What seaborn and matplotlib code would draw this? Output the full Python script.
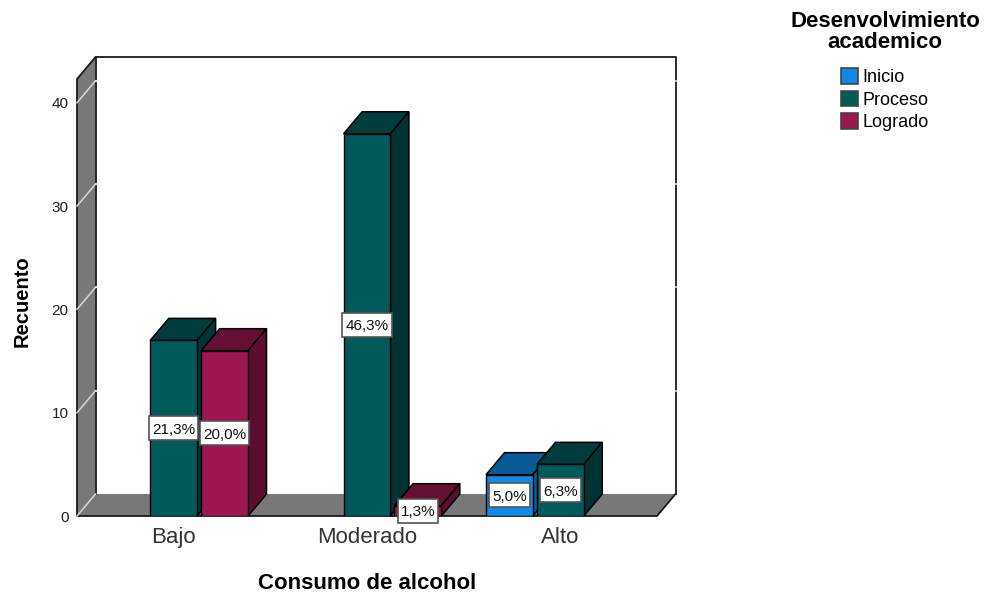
import matplotlib
matplotlib.use("Agg")
import matplotlib.pyplot as plt
import pandas as pd
import seaborn as sns
from matplotlib.patches import Polygon, Rectangle

# Values
consumo = ["Bajo", "Bajo", "Moderado", "Moderado", "Alto", "Alto"]
desenvolvimiento = ["Proceso", "Logrado", "Proceso", "Logrado", "Inicio", "Proceso"]
recuento = [17, 16, 37, 1, 4, 5]
porcentaje = ["21,3%", "20,0%", "46,3%", "1,3%", "5,0%", "6,3%"]

order = ["Bajo", "Moderado", "Alto"]
hue_order = ["Inicio", "Proceso", "Logrado"]
y_ticks = [0, 10, 20, 30, 40]

front = {"Inicio": "#1188E6", "Proceso": "#005A5A", "Logrado": "#9E1650"}
top = {"Inicio": "#0A5A96", "Proceso": "#003C3C", "Logrado": "#660F35"}
side = {"Inicio": "#0A5A96", "Proceso": "#003333", "Logrado": "#5C0E30"}
WALL = "#787878"

W, H = 984, 594
plt.rcParams["font.family"] = ["Liberation Sans", "DejaVu Sans"]

df = pd.DataFrame({"consumo": consumo, "nivel": desenvolvimiento,
                   "recuento": recuento, "porcentaje": porcentaje})

fig = plt.figure(figsize=(W / 100, H / 100), dpi=100)
ax = fig.add_axes([77 / W, (H - 516) / H, 580 / W, 437 / H])

sns.barplot(data=df, x="consumo", y="recuento", hue="nivel", order=order,
            hue_order=hue_order, palette=front, width=0.79, gap=0.08,
            edgecolor="black", linewidth=1, saturation=1, ax=ax, zorder=5)

ax.set_xlim(-0.5, 2.5)
ax.set_ylim(0, 42.3)
ax.patch.set_visible(False)
for s in ax.spines.values():
    s.set_visible(False)

# depth of the fake 3D box, in data units
dx = 18.5 / 193
dy = 2.13
x0, x1 = ax.get_xlim()
y1 = ax.get_ylim()[1]
line = dict(edgecolor="black", linewidth=1.1, clip_on=False)
edge = dict(color="#1a1a1a", lw=1.3, clip_on=False, zorder=3, solid_capstyle="projecting")

# left wall and floor, the back edge of the floor has no dark line
ax.add_patch(Polygon([(x0, 0), (x0 + dx, dy), (x0 + dx, y1 + dy), (x0, y1)],
                     facecolor=WALL, edgecolor="none", zorder=2, clip_on=False))
ax.add_patch(Polygon([(x0, 0), (x1, 0), (x1 + dx, dy), (x0 + dx, dy)],
                     facecolor=WALL, edgecolor="none", zorder=2, clip_on=False))
ax.plot([x0 + dx, x0 + dx, x1 + dx, x1 + dx], [dy, y1 + dy, y1 + dy, dy], **edge)
ax.plot([x0 + dx, x0, x0, x1, x1 + dx], [y1 + dy, y1, 0, 0, dy], **edge)

# white grid lines only show on the wall and where they cross the frame
for t in y_ticks:
    ax.plot([x0, x0 + dx], [t, t + dy], color="#d8d8d8", lw=1.1, zorder=4, clip_on=False)
    if t > 0:
        ax.plot([x0 + dx, x1 + dx], [t + dy, t + dy], color="white", lw=1.1, zorder=4,
                clip_on=False)

# extrude each bar, left to right so the nearer ones cover the others
labels = []
for nivel, container in zip(hue_order, ax.containers):
    sub = df[df["nivel"] == nivel]
    for bar, pct in zip(container, sub["porcentaje"]):
        xa = bar.get_x()
        xb = xa + bar.get_width()
        h = bar.get_height()
        z = 5 + xa
        bar.set_zorder(z + 0.2)
        ax.add_patch(Polygon([(xa, h), (xb, h), (xb + dx, h + dy), (xa + dx, h + dy)],
                             facecolor=top[nivel], zorder=z, **line))
        ax.add_patch(Polygon([(xb, 0), (xb + dx, dy), (xb + dx, h + dy), (xb, h)],
                             facecolor=side[nivel], zorder=z, **line))
        labels.append(ax.text((xa + xb) / 2, h / 2, pct, ha="center", va="center_baseline",
                              fontsize=11, color="#111111", zorder=21))

# label boxes are wider than the text by a little, taller by a lot
renderer = fig.canvas.get_renderer()
to_data = ax.transData.inverted()
for label in labels:
    bb = label.get_window_extent(renderer)
    (xa, _), (xb, _) = to_data.transform([(bb.x0 - 3, 0), (bb.x1 + 3, 0)])
    xc, yc = label.get_position()
    half = 12 * (y1 / 437)
    ax.add_patch(Rectangle((xa, yc - half), xb - xa, 2 * half, facecolor="white",
                           edgecolor="#555555", linewidth=1.2, zorder=20, clip_on=False))

ax.set_yticks(y_ticks)
ax.tick_params(axis="y", length=0, labelsize=11, pad=6, labelcolor="#222222")
ax.tick_params(axis="x", length=0, labelsize=16, pad=8, labelcolor="#333333")
ax.set_xlabel("Consumo de alcohol", fontsize=16, fontweight="bold", labelpad=18)
ax.set_ylabel("Recuento", fontsize=14.5, fontweight="bold")
ax.yaxis.set_label_coords((32 - 77) / 580, (516 - 301) / 437)

leg = ax.legend(title="Desenvolvimiento\nacademico", loc="upper center",
                bbox_to_anchor=(885 / W, 1 + 3 / H), bbox_transform=fig.transFigure,
                frameon=False, fontsize=13, handlelength=0.95, handleheight=0.95,
                labelspacing=0.25, handletextpad=0.25, borderpad=0.3)
leg.get_title().set_fontsize(16)
leg.get_title().set_fontweight("bold")
leg.get_title().set_multialignment("center")
leg.get_title().set_linespacing(0.98)
leg._legend_box.sep = 11
for handle in leg.get_patches():
    handle.set_edgecolor("#444444")
    handle.set_linewidth(1.2)

fig.savefig("out.png", dpi=100, facecolor="white")
